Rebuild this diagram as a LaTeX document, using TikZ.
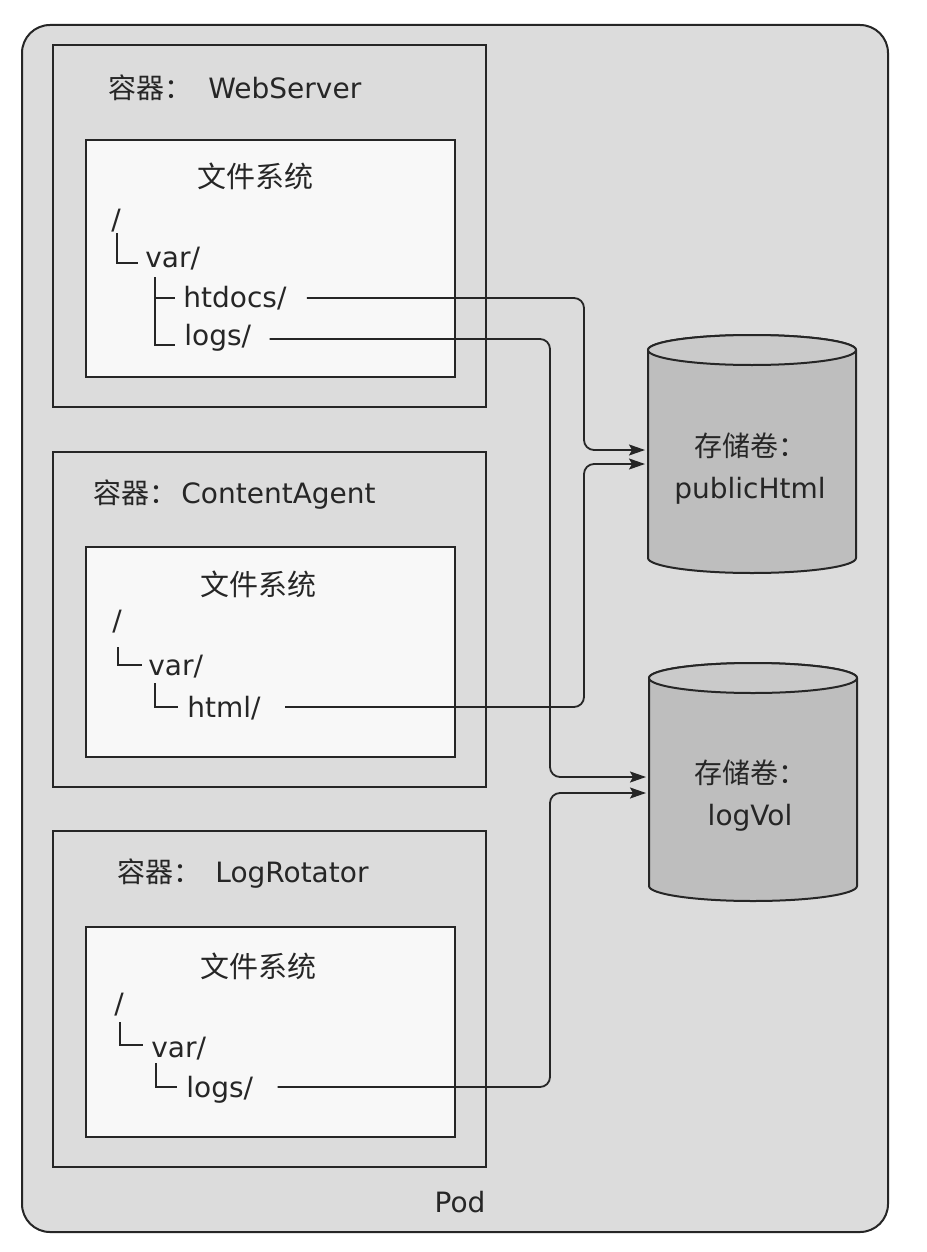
\documentclass[tikz,border=0pt]{standalone}
\usepackage{fontspec}
\setmainfont{DejaVu Sans}
\newfontfamily\cjk{Noto Sans CJK SC}
\usetikzlibrary{arrows.meta}

\definecolor{podgray}{HTML}{DCDCDC}
\definecolor{fswhite}{HTML}{F8F8F8}
\definecolor{volbody}{HTML}{BEBEBE}
\definecolor{voltop}{HTML}{CACACA}
\definecolor{inkgray}{HTML}{262626}

\tikzset{
  box/.style={draw=inkgray, line width=1pt},
  ctrtitle/.style={anchor=west, inner sep=0pt, text=inkgray, font=\fontsize{14}{17}\selectfont},
  fstitle/.style={inner sep=0pt, text=inkgray, font=\cjk\fontsize{14.5}{17}\selectfont},
  dirname/.style={anchor=base west, inner sep=0pt, text=inkgray, font=\fontsize{14}{17}\selectfont},
  treeline/.style={draw=inkgray, line width=0.8pt},
  volbox/.style={inner sep=0pt, outer sep=0pt, minimum width=104pt, minimum height=119pt},
  voltext/.style={align=center, inner sep=0pt, text=inkgray, font=\fontsize{14}{21}\selectfont},
  link/.style={draw=inkgray, line width=0.9pt, rounded corners=5pt,
    -{Stealth[length=8pt,width=5.5pt,inset=1.5pt]}},
}

\begin{document}
\begin{tikzpicture}[x=0.5pt,y=-0.5pt]
    \useasboundingbox (0,0) rectangle (926,1252);
    \fill[white] (0,0) rectangle (926,1252);

    % Draw pod
    \draw[box, fill=podgray, rounded corners=14pt] (22,25) rectangle (888,1232);
    \node[inner sep=0pt, text=inkgray, font=\fontsize{14}{17}\selectfont] (pod) at (460,1202) {Pod};

    % Draw containers and their file systems
    \foreach \top/\bot/\itop/\ibot in {45/407/140/377, 452/787/547/757, 831/1167/927/1137} {
        \draw[box] (53,\top) rectangle (486,\bot);
        \draw[box, fill=fswhite] (86,\itop) rectangle (455,\ibot);
    }

    % Container WebServer
    \node[ctrtitle] (wstitle) at (108,88) {{\cjk 容器：}\hspace{8pt}WebServer};
    \node[fstitle] (wsfs) at (255,176) {文件系统};
    \node[dirname] (wsroot) at (111,229) {/};
    \node[dirname] (wsvar) at (145,267) {var/};
    \node[dirname] (wshtdocs) at (183,307) {htdocs/};
    \node[dirname] (wslogs) at (184,345) {logs/};
    \draw[treeline] (117,233) |- (138,263);
    \draw[treeline] (155,277) |- (175,345);
    \draw[treeline] (155,298) -- (175,298);

    % Container ContentAgent
    \node[ctrtitle] (catitle) at (93,495) {{\cjk 容器：}\hspace{2pt}ContentAgent};
    \node[fstitle] (cafs) at (258,584) {文件系统};
    \node[dirname] (caroot) at (112,630) {/};
    \node[dirname] (cavar) at (148,675) {var/};
    \node[dirname] (cahtml) at (187,717) {html/};
    \draw[treeline] (118,647) |- (142,665);
    \draw[treeline] (155,683) |- (178,707);

    % Container LogRotator
    \node[ctrtitle] (lrtitle) at (117,874) {{\cjk 容器：}\hspace{7pt}LogRotator};
    \node[fstitle] (lrfs) at (258,966) {文件系统};
    \node[dirname] (lrroot) at (114,1013) {/};
    \node[dirname] (lrvar) at (151,1057) {var/};
    \node[dirname] (lrlogs) at (186,1097) {logs/};
    \draw[treeline] (120,1022) |- (143,1045);
    \draw[treeline] (156,1063) |- (177,1087);

    % Draw volumes
    \node[volbox] (pubvol) at (752,454) {};
    \node[volbox] (logvol) at (753,782) {};
    \foreach \v in {pubvol,logvol} {
        \filldraw[box, fill=volbody] ([yshift=-7.5pt]\v.north west) -- ([yshift=7.5pt]\v.south west)
            arc[start angle=180, end angle=360, x radius=52pt, y radius=7.5pt]
            -- ([yshift=-7.5pt]\v.north east)
            arc[start angle=0, end angle=180, x radius=52pt, y radius=7.5pt] -- cycle;
        \filldraw[box, fill=voltop] ([yshift=-7.5pt]\v.north) ellipse [x radius=52pt, y radius=7.5pt];
    }
    \node[voltext] (pubtxt) at (750,469) {{\cjk 存储卷：}\\publicHtml};
    \node[voltext] (logtxt) at (750,796) {{\cjk 存储卷：}\\logVol};

    % Draw mounts
    \coordinate (pubbus) at (584,0);
    \coordinate (logbus) at (550,0);
    \coordinate (pubin1) at ([xshift=-1.5pt,yshift=2pt]pubvol.west);
    \coordinate (pubin2) at ([xshift=-1.5pt,yshift=-5pt]pubvol.west);
    \coordinate (login1) at ([xshift=-1.5pt,yshift=2.5pt]logvol.west);
    \coordinate (login2) at ([xshift=-1.5pt,yshift=-5.5pt]logvol.west);
    \draw[link] ([xshift=10pt,yshift=4.5pt]wshtdocs.base east) -| (pubbus |- pubin1) -- (pubin1);
    \draw[link] ([xshift=9pt,yshift=3pt]wslogs.base east) -| (logbus |- login1) -- (login1);
    \draw[link] ([xshift=12pt,yshift=5pt]cahtml.base east) -| (pubbus |- pubin2) -- (pubin2);
    \draw[link] ([xshift=12pt,yshift=5pt]lrlogs.base east) -| (logbus |- login2) -- (login2);
\end{tikzpicture}
\end{document}
